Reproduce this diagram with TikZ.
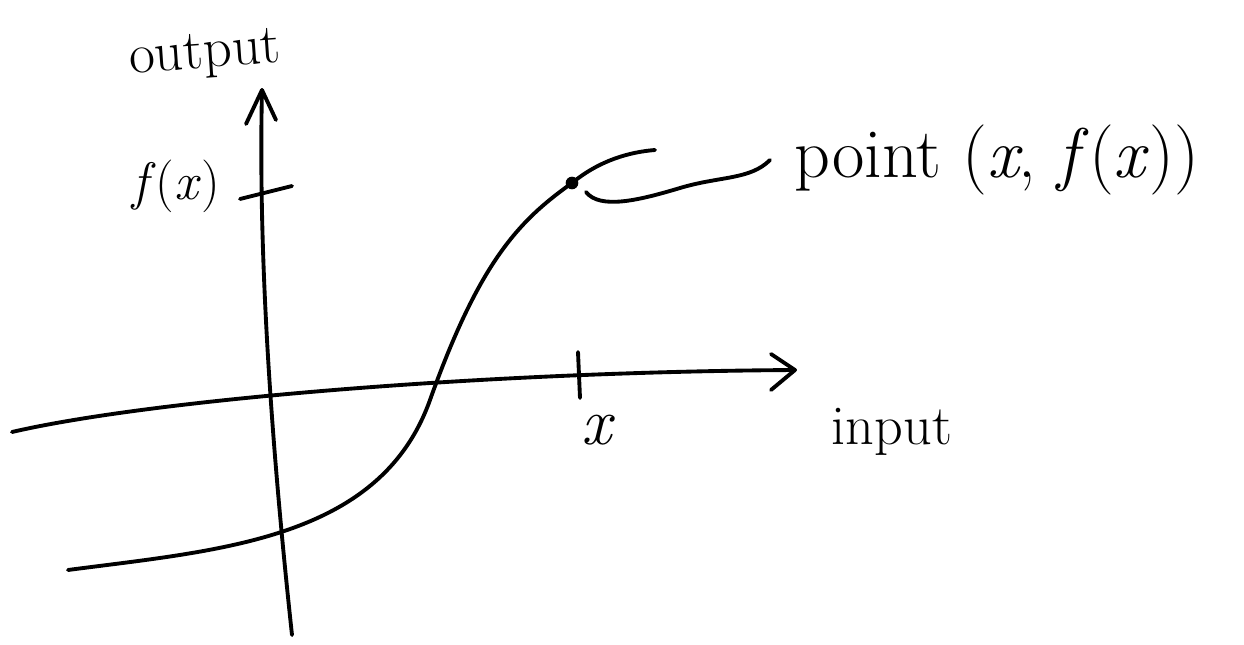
\documentclass[tikz,border=0pt]{standalone}
\usetikzlibrary{positioning}
\begin{document}
\begin{tikzpicture}[x=0.02cm, y=-0.02cm,
    pen/.style={line width=2.2pt, line cap=round, line join=round},
    lbl/.style={font=\fontsize{32}{38}\selectfont, inner sep=0pt}]
  \useasboundingbox (0,0) rectangle (1244,645);
  % axes
  \coordinate (ybot) at (292,635);
  \coordinate (ytop) at (262,90);
  \draw[pen] (ybot) .. controls (272,450) and (258,260) .. (ytop);
  \draw[pen] (246,124) -- (ytop) -- (276,120);
  \coordinate (xleft) at (12,432);
  \coordinate (xright) at (795,370);
  \draw[pen] (xleft) .. controls (150,400) and (480,372) .. (xright);
  \draw[pen] (771,354) -- (xright) -- (771,390);
  % ticks
  \coordinate (fxa) at (240,199);
  \coordinate (fxb) at (292,186);
  \draw[pen] (fxa) -- (fxb);
  \coordinate (xa) at (578,352);
  \coordinate (xb) at (580,398);
  \draw[pen] (xa) -- (xb);
  % the function
  \coordinate (cstart) at (68,570);
  \coordinate (pt) at (572,183);
  \coordinate (cend) at (655,150);
  \draw[pen] (cstart) .. controls (220,550) and (380,540) .. (430,400)
    .. controls (480,260) and (520,220) .. (pt)
    .. controls (600,160) and (630,152) .. (cend);
  \fill (pt) circle[radius=3.6pt];
  % labels
  \node[lbl, rotate=4] (out) at (205,56) {output};
  \node[lbl, font=\fontsize{30}{36}\selectfont] (fx) at (176,186) {\textit{f}(\textit{x})};
  \node[lbl, font=\fontsize{38}{44}\selectfont] (xlab) at (598,430) {\textit{x}};
  \node[lbl] (in) at (892,432) {input};
  \node[lbl, anchor=west, outer sep=14pt, font=\fontsize{40}{46}\selectfont]
    (ptlab) at (770,160) {point (\textit{x}, \textit{f}(\textit{x}))};
  \coordinate (hook) at (586,192);
  \draw[pen] (hook) .. controls (600,210) and (640,200) .. (680,188)
    .. controls (720,176) and (750,180) .. (ptlab.west);
\end{tikzpicture}
\end{document}
